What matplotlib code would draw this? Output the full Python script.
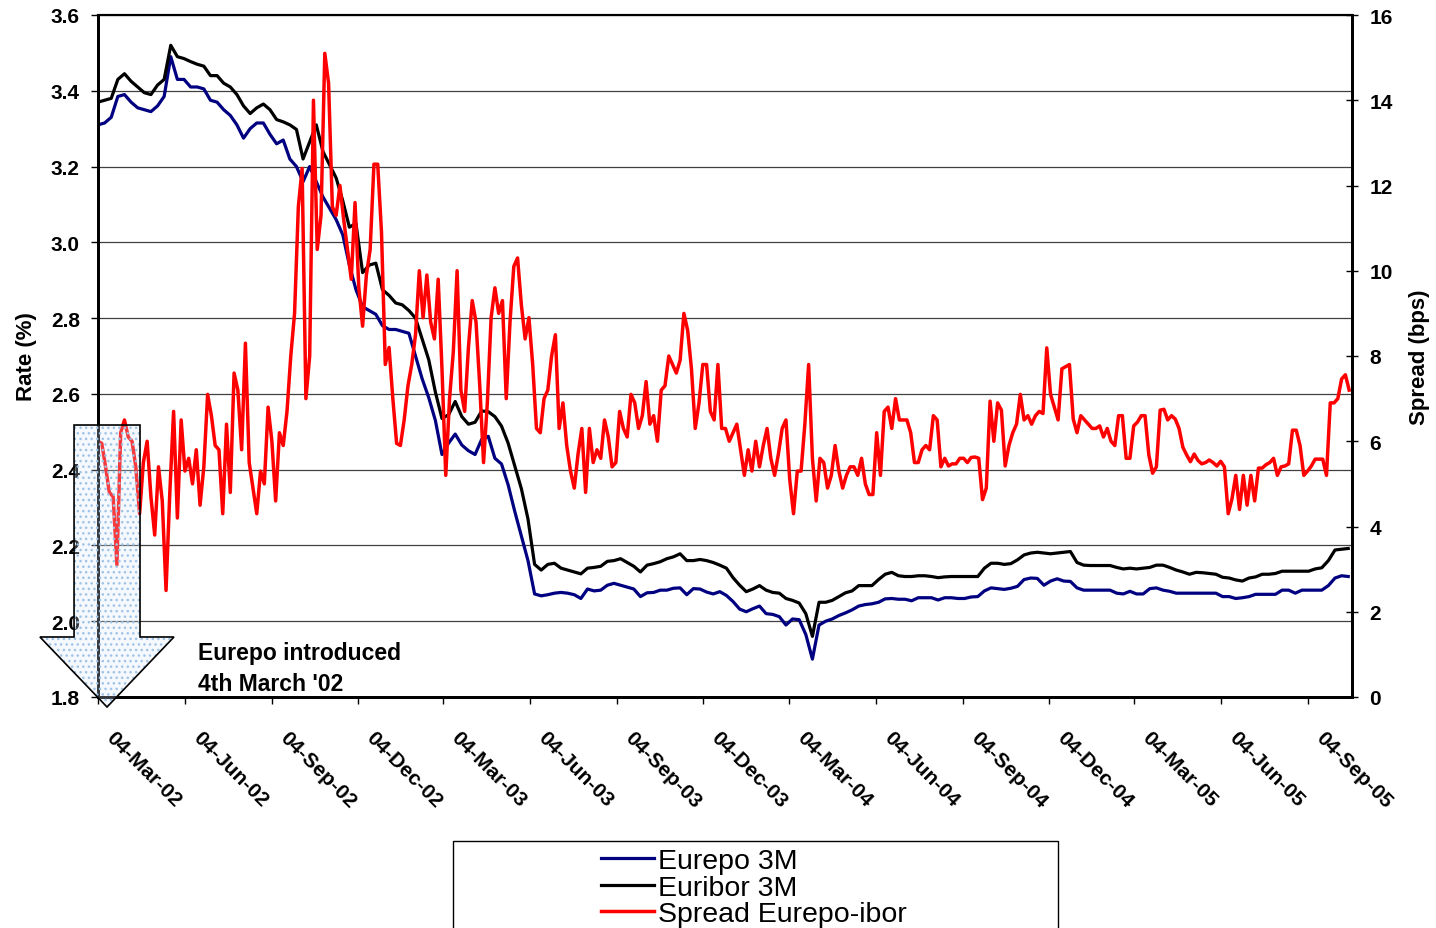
import matplotlib.pyplot as plt
import matplotlib.dates as mdates
from matplotlib.patches import Polygon, Rectangle
from matplotlib.ticker import FormatStrFormatter
from matplotlib.transforms import ScaledTranslation, blended_transform_factory
import pandas as pd

plt.rcParams['font.family'] = ['Liberation Sans', 'DejaVu Sans']

rate_start = '2002-03-04'
eurepo_3m = [
    3.31, 3.315, 3.33, 3.385, 3.39, 3.37, 3.355, 3.35, 3.345, 3.36, 3.385, 3.49, 3.43, 3.43,
    3.41, 3.41, 3.405, 3.375, 3.37, 3.35, 3.335, 3.31, 3.275, 3.3, 3.315, 3.315, 3.285,
    3.26, 3.27, 3.22, 3.2, 3.16, 3.2, 3.16, 3.12, 3.09, 3.06, 3.02, 2.94, 2.875, 2.83,
    2.82, 2.81, 2.78, 2.77, 2.77, 2.765, 2.76, 2.7, 2.64, 2.59, 2.53, 2.44, 2.47,
    2.494, 2.465, 2.45, 2.44, 2.48, 2.488, 2.43, 2.415, 2.36, 2.29, 2.225, 2.16, 2.072, 2.067,
    2.07, 2.074, 2.076, 2.074, 2.07, 2.06, 2.085, 2.08, 2.082, 2.095, 2.1, 2.095, 2.09,
    2.085, 2.065, 2.075, 2.076, 2.082, 2.082, 2.087, 2.088, 2.07, 2.086, 2.085, 2.077, 2.072, 2.078,
    2.068, 2.052, 2.032, 2.025, 2.033, 2.04, 2.02, 2.018, 2.012, 1.99, 2.006, 2.004, 1.965, 1.9,
    1.99, 2.0, 2.006, 2.015, 2.022, 2.03, 2.04, 2.044, 2.046, 2.05, 2.059, 2.06, 2.058, 2.058,
    2.054, 2.062, 2.062, 2.062, 2.056, 2.062, 2.062, 2.06, 2.06, 2.064, 2.065, 2.08, 2.088,
    2.086, 2.084, 2.087, 2.092, 2.11, 2.114, 2.113, 2.095, 2.106, 2.112, 2.106, 2.105, 2.088, 2.082,
    2.082, 2.082, 2.082, 2.082, 2.074, 2.072, 2.079, 2.072, 2.072, 2.086, 2.088, 2.082, 2.079,
    2.074, 2.074, 2.074, 2.074, 2.074, 2.074, 2.074, 2.065, 2.065, 2.06, 2.062, 2.065, 2.071, 2.071,
    2.071, 2.071, 2.082, 2.082, 2.074, 2.082, 2.082, 2.082, 2.082, 2.094, 2.114, 2.12, 2.118,
]
euribor_3m = [
    3.37, 3.375, 3.38, 3.43, 3.445, 3.425, 3.41, 3.395, 3.39, 3.415, 3.43, 3.52, 3.49, 3.485,
    3.477, 3.47, 3.465, 3.44, 3.44, 3.42, 3.41, 3.39, 3.36, 3.34, 3.355, 3.365, 3.35,
    3.324, 3.318, 3.31, 3.298, 3.22, 3.265, 3.31, 3.24, 3.205, 3.17, 3.11, 3.04, 3.05, 2.92,
    2.94, 2.945, 2.875, 2.86, 2.84, 2.835, 2.82, 2.8, 2.745, 2.69, 2.605, 2.535, 2.545,
    2.58, 2.54, 2.52, 2.525, 2.555, 2.553, 2.54, 2.515, 2.47, 2.41, 2.35, 2.27, 2.15, 2.135,
    2.15, 2.153, 2.14, 2.135, 2.13, 2.125, 2.14, 2.142, 2.145, 2.158, 2.16, 2.165, 2.155,
    2.145, 2.13, 2.148, 2.152, 2.157, 2.165, 2.17, 2.178, 2.16, 2.16, 2.163, 2.16, 2.155, 2.148,
    2.14, 2.115, 2.095, 2.078, 2.085, 2.094, 2.082, 2.076, 2.074, 2.06, 2.055, 2.048, 2.02, 1.96,
    2.05, 2.05, 2.055, 2.065, 2.075, 2.08, 2.094, 2.094, 2.094, 2.11, 2.124, 2.129, 2.12, 2.118,
    2.118, 2.12, 2.12, 2.118, 2.115, 2.117, 2.118, 2.118, 2.118, 2.118, 2.118, 2.14, 2.153,
    2.153, 2.15, 2.152, 2.162, 2.175, 2.18, 2.182, 2.18, 2.178, 2.18, 2.182, 2.184, 2.155, 2.148,
    2.147, 2.147, 2.147, 2.147, 2.142, 2.138, 2.14, 2.138, 2.14, 2.142, 2.148, 2.148, 2.142,
    2.135, 2.13, 2.124, 2.129, 2.128, 2.126, 2.124, 2.116, 2.114, 2.109, 2.106, 2.114, 2.117, 2.124,
    2.124, 2.126, 2.132, 2.132, 2.132, 2.132, 2.132, 2.138, 2.141, 2.16, 2.188, 2.19, 2.192,
]
spread_bps = [
    6.0, 5.95, 5.4, 4.8, 4.7, 3.1, 6.2, 6.5, 6.1, 6.0, 5.4, 4.3, 5.5, 6.0, 4.7, 3.8,
    5.4, 4.6, 2.5, 4.8, 6.7, 4.2, 6.5, 5.3, 5.6, 5.0, 5.8, 4.5, 5.4, 7.1, 6.6, 5.9,
    5.8, 4.3, 6.4, 4.8, 7.6, 7.2, 5.8, 8.3, 5.5, 4.9, 4.3, 5.3, 5.0, 6.8, 6.0,
    4.6, 6.2, 5.9, 6.7, 8.0, 9.0, 11.5, 12.4, 7.0, 8.0, 14.0, 10.5, 11.3, 15.1, 14.4, 11.5,
    11.3, 12.0, 11.2, 10.5, 9.8, 11.6, 9.6, 8.7, 9.9, 10.5, 12.5, 12.5, 10.9, 7.8, 8.2, 7.0,
    5.95, 5.9, 6.5, 7.3, 7.8, 8.5, 10.0, 8.9, 9.9, 8.8, 8.4, 9.8, 7.7, 5.2, 7.0, 8.1,
    10.0, 7.2, 6.7, 8.2, 9.3, 8.8, 7.3, 5.5, 6.9, 8.9, 9.6, 9.0, 9.3, 7.0, 8.8, 10.1,
    10.3, 9.2, 8.4, 8.9, 7.8, 6.3, 6.2, 7.0, 7.2, 8.0, 8.5, 6.3, 6.9, 5.9, 5.3, 4.9,
    5.7, 6.3, 4.8, 6.3, 5.5, 5.8, 5.6, 6.5, 6.1, 5.4, 5.5, 6.7, 6.3, 6.1, 7.1,
    6.9, 6.3, 6.6, 7.4, 6.4, 6.6, 6.0, 7.2, 7.3, 8.0, 7.8, 7.6, 7.9, 9.0, 8.6, 7.7,
    6.3, 6.9, 7.8, 7.8, 6.7, 6.5, 7.8, 6.3, 6.3, 6.0, 6.2, 6.4, 5.8, 5.2, 5.8, 5.3,
    6.0, 5.4, 5.9, 6.3, 5.6, 5.2, 5.7, 6.3, 6.5, 5.1, 4.3, 5.3, 5.3, 6.4, 7.8, 5.6,
    4.6, 5.6, 5.5, 4.9, 5.2, 5.9, 5.3, 4.9, 5.2, 5.4, 5.4, 5.2, 5.6, 5.0, 4.75, 4.75,
    6.2, 5.2, 6.7, 6.8, 6.3, 7.0, 6.5, 6.5, 6.5, 6.2, 5.5, 5.5, 5.8, 5.9, 5.8, 6.6,
    6.5, 5.4, 5.6, 5.42, 5.47, 5.47, 5.6, 5.6, 5.5, 5.62, 5.63, 5.6, 4.63, 4.9, 6.94, 6.0,
    6.9, 6.73, 5.42, 5.9, 6.2, 6.4, 7.1, 6.5, 6.6, 6.4, 6.6, 6.7, 6.65, 8.19, 7.1, 6.8,
    6.5, 7.7, 7.75, 7.8, 6.52, 6.2, 6.6, 6.5, 6.4, 6.3, 6.3, 6.36, 6.1, 6.3, 6.0, 5.9,
    6.6, 6.6, 5.6, 5.6, 6.36, 6.45, 6.6, 6.6, 5.68, 5.25, 5.4, 6.73, 6.75, 6.5, 6.6,
    6.52, 6.3, 5.86, 5.68, 5.52, 5.7, 5.55, 5.47, 5.5, 5.56, 5.5, 5.42, 5.53, 5.4, 4.3, 4.65,
    5.2, 4.4, 5.2, 4.5, 5.2, 4.6, 5.37, 5.37, 5.45, 5.5, 5.6, 5.2, 5.4, 5.42, 5.47, 6.26,
    6.26, 5.9, 5.2, 5.3, 5.42, 5.58, 5.58, 5.58, 5.2, 6.9, 6.9, 7.0, 7.46, 7.56, 7.2,
]
xtick_labels = ['04-Mar-02', '04-Jun-02', '04-Sep-02', '04-Dec-02', '04-Mar-03', '04-Jun-03',
                '04-Sep-03', '04-Dec-03', '04-Mar-04', '04-Jun-04', '04-Sep-04', '04-Dec-04',
                '04-Mar-05', '04-Jun-05', '04-Sep-05']
rate_ticks = [1.8, 2.0, 2.2, 2.4, 2.6, 2.8, 3.0, 3.2, 3.4, 3.6]
spread_ticks = [0, 2, 4, 6, 8, 10, 12, 14, 16]

rate_dates = pd.date_range(rate_start, periods=len(euribor_3m), freq='7D')
spread_dates = pd.date_range(rate_start, periods=len(spread_bps), freq='4D')
xtick_dates = pd.to_datetime(xtick_labels, format='%d-%b-%y')

W, H = 1436, 929
fig = plt.figure(figsize=(W / 100, H / 100), dpi=100)
ax = fig.add_axes([98 / W, 1 - 698 / H, (1352 - 98) / W, (698 - 16) / H])
ax2 = ax.twinx()

l1, = ax.plot(rate_dates, eurepo_3m, color='#000080', lw=2.3, label='Eurepo 3M')
l2, = ax.plot(rate_dates, euribor_3m, color='black', lw=2.3, label='Euribor 3M')
l3, = ax2.plot(spread_dates, spread_bps, color='#ff0000', lw=2.5, label='Spread Eurepo-ibor')

ax.set_xlim(pd.Timestamp('2002-03-04'), pd.Timestamp('2005-10-21'))
ax.set_ylim(1.8, 3.6)
ax2.set_ylim(0, 16)

ax.set_yticks(rate_ticks)
ax.yaxis.set_major_formatter(FormatStrFormatter('%.1f'))
ax2.set_yticks(spread_ticks)
ax.set_xticks(xtick_dates)
ax.set_xticklabels([])

# date labels: rotated, hanging a little right of each tick
lab_tr = blended_transform_factory(ax.transData, ax.transAxes) + \
    ScaledTranslation(0.11, -0.37, fig.dpi_scale_trans)
for d, lab in zip(xtick_dates, xtick_labels):
    ax.text(mdates.date2num(d), 0, lab, transform=lab_tr, rotation=-45,
            rotation_mode='anchor', ha='left', va='center', fontweight='bold',
            fontsize=15, clip_on=False)

ax.tick_params(axis='x', direction='out', length=5, width=1)
ax.tick_params(axis='y', direction='out', length=5, width=1, pad=8, labelsize=15)
ax2.tick_params(axis='y', direction='inout', length=9, width=1, pad=8, labelsize=15)
for lab in ax.get_yticklabels() + ax2.get_yticklabels():
    lab.set_fontweight('bold')

ax.grid(axis='y', color='#404040', lw=0.9)
ax.set_axisbelow(True)
for a in (ax, ax2):
    for side in ('left', 'right', 'bottom'):
        a.spines[side].set_linewidth(2)
    a.spines['top'].set_linewidth(1.5)

ax.set_ylabel('Rate (%)', fontweight='bold', fontsize=16, labelpad=10)
ax2.set_ylabel('Spread (bps)', fontweight='bold', fontsize=16, labelpad=12)

# block arrow marking the Eurepo launch (axes fraction coords)
arrow_pts = [(-0.0191, 0.3988), (0.0335, 0.3988), (0.0335, 0.0880), (0.0606, 0.0880),
             (0.0072, -0.0147), (-0.0463, 0.0880), (-0.0191, 0.0880)]
ax2.add_patch(Polygon(arrow_pts, closed=True, transform=ax.transAxes, clip_on=False,
                      facecolor=(0.86, 0.92, 0.98, 0.25), edgecolor='#9ec3e6',
                      hatch='...', lw=0, zorder=5))
ax2.add_patch(Polygon(arrow_pts, closed=True, transform=ax.transAxes, clip_on=False,
                      facecolor='none', edgecolor='black', lw=1.2, zorder=6))
ax.text((198 - 98) / 1254, (698 - 642) / 682, "Eurepo introduced\n4th March '02",
        transform=ax.transAxes, fontsize=16.5, fontweight='bold', va='top', ha='left',
        linespacing=1.45, zorder=7)

# legend box runs off the bottom of the figure
fig.patches.append(Rectangle((453 / W, -0.02), 605 / W, (929 - 842) / H + 0.02,
                             transform=fig.transFigure, facecolor='white',
                             edgecolor='black', lw=1, zorder=0))
fig.legend(handles=[l1, l2, l3], loc='upper left', bbox_to_anchor=(601 / W, 1 - 849 / H),
           frameon=False, fontsize=20.5, labelspacing=0.02, handlelength=1.85,
           handletextpad=0.15, borderpad=0, borderaxespad=0)

fig.savefig('out.png', dpi=100)
